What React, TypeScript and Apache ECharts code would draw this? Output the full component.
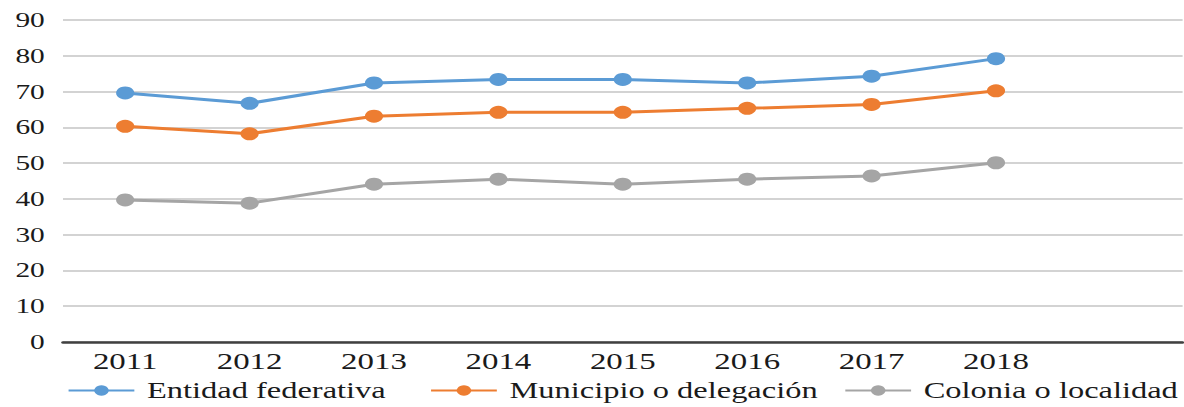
import React, { useEffect, useRef } from "react";
import * as echarts from "echarts";

const years = ["2011", "2012", "2013", "2014", "2015", "2016", "2017", "2018", ""];
const entidad = [69.6, 66.7, 72.4, 73.4, 73.4, 72.4, 74.3, 79.2];
const municipio = [60.3, 58.2, 63.1, 64.2, 64.2, 65.3, 66.4, 70.2];
const colonia = [39.7, 38.8, 44.1, 45.5, 44.1, 45.5, 46.4, 50.1];
const seriesNames = ["Entidad federativa", "Municipio o delegación", "Colonia o localidad"];
const colors = ["#5B9BD5", "#ED7D31", "#A5A5A5"];

const STRETCH = 1.4;
const FULL_W = 1184;
const FULL_H = 407;
const INNER_W = Math.round(FULL_W / STRETCH);
const FONT = "Liberation Serif, Times New Roman, serif";

export default function App() {
  const ref = useRef<HTMLDivElement>(null);
  useEffect(() => {
    if (!ref.current) return;
    const chart = echarts.init(ref.current, undefined, { renderer: "svg" });
    const values = [entidad, municipio, colonia];
    const legendLefts = [48, 307, 603];
    chart.setOption({
      animation: false,
      textStyle: { fontFamily: FONT },
      grid: { left: 45, right: 1, top: 20, bottom: FULL_H - 342, containLabel: false },
      legend: seriesNames.map((n, i) => ({
        data: [n],
        left: legendLefts[i],
        top: 379,
        padding: 0,
        itemWidth: 47,
        itemHeight: 13,
        itemGap: 8,
        textStyle: { fontFamily: FONT, fontSize: 23.2, color: "#1a1a1a", padding: [0, 0, 0, 4] },
      })),
      xAxis: {
        type: "category",
        data: years,
        boundaryGap: true,
        axisLine: { lineStyle: { color: "#404040", width: 2.5 } },
        axisTick: { show: false },
        axisLabel: { fontFamily: FONT, fontSize: 23.5, color: "#1a1a1a", margin: 7, interval: 0 },
      },
      yAxis: {
        type: "value",
        min: 0,
        max: 90,
        interval: 10,
        axisLine: { show: false },
        axisTick: { show: false },
        axisLabel: { fontFamily: FONT, fontSize: 21, color: "#1a1a1a", margin: 13 },
        splitLine: { lineStyle: { color: "#c4c4c4", width: 1.5 } },
      },
      series: seriesNames.map((n, i) => ({
        name: n,
        type: "line",
        data: values[i],
        symbol: "circle",
        symbolSize: 13,
        lineStyle: { color: colors[i], width: 3 },
        itemStyle: { color: colors[i] },
        z: 3 - i,
      })),
    });
    return () => chart.dispose();
  }, []);
  return (
    <div
      style={{
        position: "absolute",
        left: 0,
        top: 0,
        width: FULL_W,
        height: FULL_H,
        overflow: "hidden",
        background: "#fff",
      }}
    >
      <div
        ref={ref}
        style={{
          width: INNER_W,
          height: FULL_H,
          transform: `scaleX(${FULL_W / INNER_W})`,
          transformOrigin: "0 0",
        }}
      />
    </div>
  );
}
